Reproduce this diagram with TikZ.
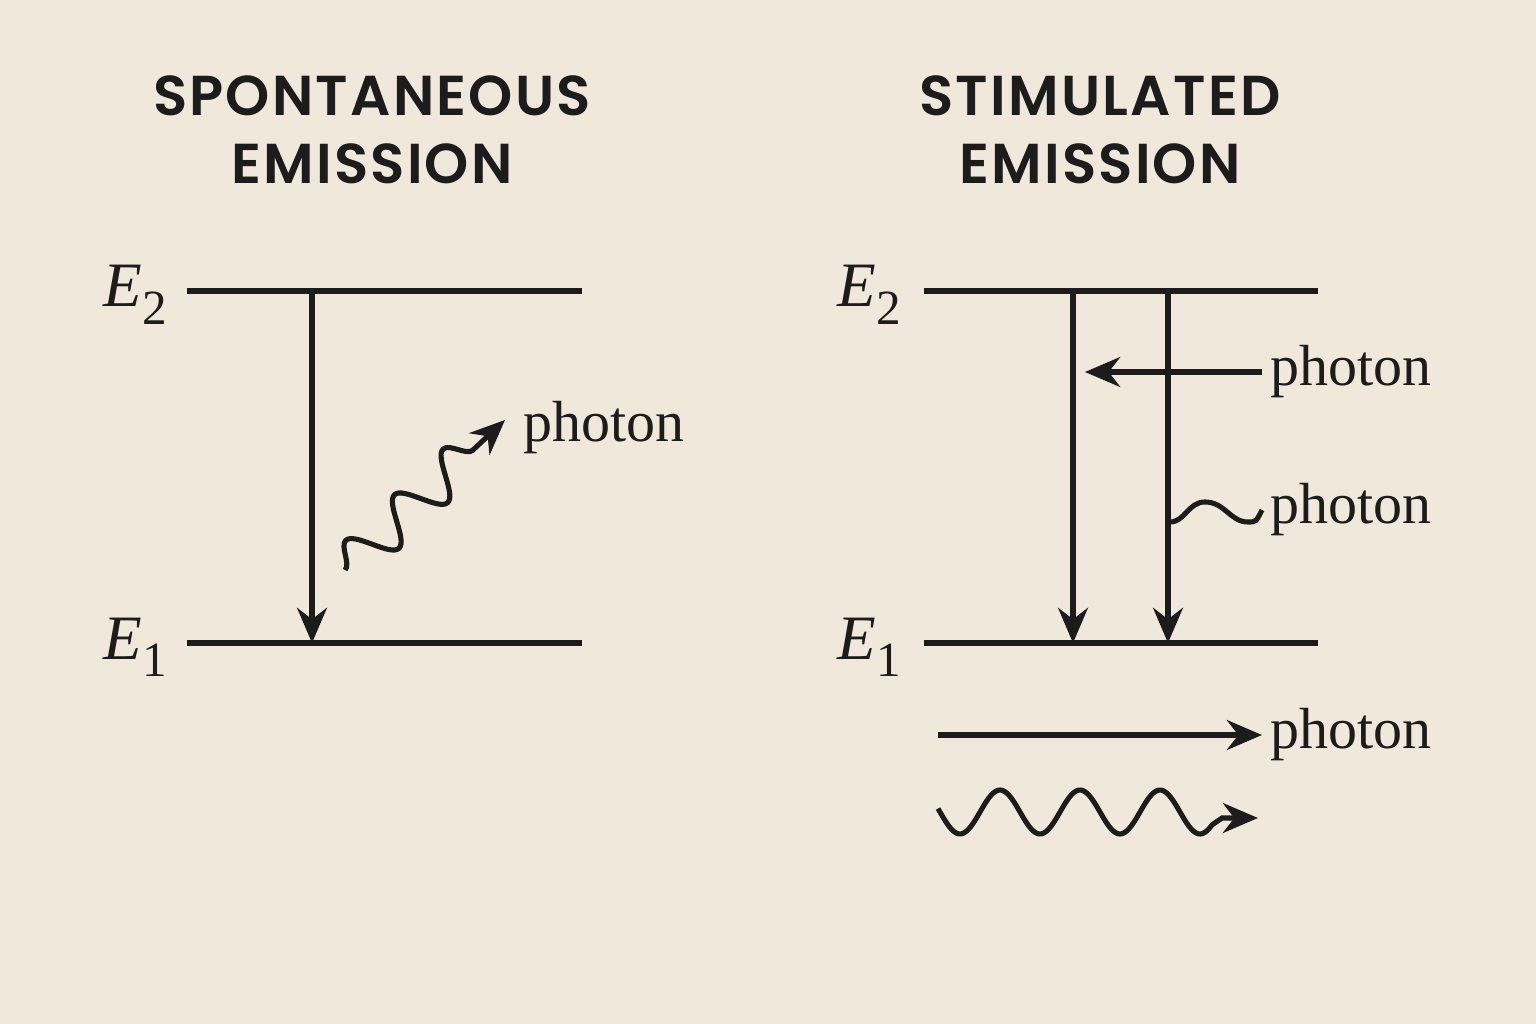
\documentclass[tikz,border=0pt]{standalone}
\usepackage{fontspec}
\usetikzlibrary{arrows.meta,positioning,decorations.pathmorphing,backgrounds}
\newfontfamily\titlefont[LetterSpace=4,BoldFont={* SemiBold}]{Poppins}
\newfontfamily\labelfont{Liberation Serif}
\definecolor{paper}{HTML}{F1E8DC}
\definecolor{ink}{HTML}{1C1C1C}
\begin{document}
\begin{tikzpicture}[x=0.02cm,y=-0.02cm, line width=2.9pt, draw=ink, >={Stealth[length=20pt,width=17pt]}]
	\tikzstyle{title}=[font=\titlefont\fontsize{32}{39}\selectfont\bfseries, text=ink, align=center]
	\tikzstyle{level}=[line width=2.9pt]
	\tikzstyle{elabel}=[font=\labelfont\fontsize{36}{40}\selectfont, text=ink, anchor=east]
	\tikzstyle{phot}=[font=\labelfont\fontsize{33}{40}\selectfont, text=ink, anchor=west]
	\fill[paper] (0,0) rectangle (1536,1024);
	\useasboundingbox (0,0) rectangle (1536,1024);
	% titles
	\node[title] (tspon) at (372,130) {SPONTANEOUS\\EMISSION};
	\node[title] (tstim) at (1100,130) {STIMULATED\\EMISSION};
	% left: spontaneous
	\coordinate (la2) at (187,291); \coordinate (lb2) at (582,291);
	\coordinate (la1) at (187,643); \coordinate (lb1) at (582,643);
	\node[elabel] (le2) at (176,295) {\textit{E}\textsubscript{\fontsize{28}{28}\selectfont 2}};
	\node[elabel] (le1) at (176,647) {\textit{E}\textsubscript{\fontsize{28}{28}\selectfont 1}};
	\draw[level] (la2) -- (lb2);
	\draw[level] (la1) -- (lb1);
	\coordinate (ltop) at (312,291); \coordinate (lbot) at (312,643);
	\draw[->] (ltop) -- (lbot);
	\coordinate (ws) at (345,570); \coordinate (we) at (505,420);
	\draw[->, decorate, decoration={snake, amplitude=12, segment length=38, post length=24}] (ws) -- (we);
	\node[phot] (lphot) at (515,428) {photon};
	% right: stimulated
	\coordinate (ra2) at (924,291); \coordinate (rb2) at (1318,291);
	\coordinate (ra1) at (924,643); \coordinate (rb1) at (1318,643);
	\node[elabel] (re2) at (910,295) {\textit{E}\textsubscript{\fontsize{28}{28}\selectfont 2}};
	\node[elabel] (re1) at (910,647) {\textit{E}\textsubscript{\fontsize{28}{28}\selectfont 1}};
	\draw[level] (ra2) -- (rb2);
	\draw[level] (ra1) -- (rb1);
	\coordinate (rt1) at (1073,291); \coordinate (rd1) at (1073,643);
	\coordinate (rt2) at (1168,291); \coordinate (rd2) at (1168,643);
	\draw[->] (rt1) -- (rd1);
	\draw[->] (rt2) -- (rd2);
	\node[phot] (pin) at (1262,372) {photon};
	\coordinate (pend) at (1085,372);
	\draw[->] (pin.west) -- (pend);
	\node[phot] (pout) at (1262,510) {photon};
	\draw (1170,522) .. controls (1185,522) and (1188,502) .. (1205,502)
		.. controls (1225,502) and (1230,522) .. (1248,522) .. controls (1256,522) .. (pout.west);
	\node[phot] (pdown) at (1262,735) {photon};
	\coordinate (ps) at (938,735);
	\draw[->] (ps) -- (pdown.west);
	\coordinate (bwe) at (1258,818);
	\draw[->] plot[domain=938:1212, samples=120, smooth] ({\x},{812-22*cos((\x-1000)*4.5)}) -- (1222,818) -- (bwe);
\end{tikzpicture}
\end{document}
